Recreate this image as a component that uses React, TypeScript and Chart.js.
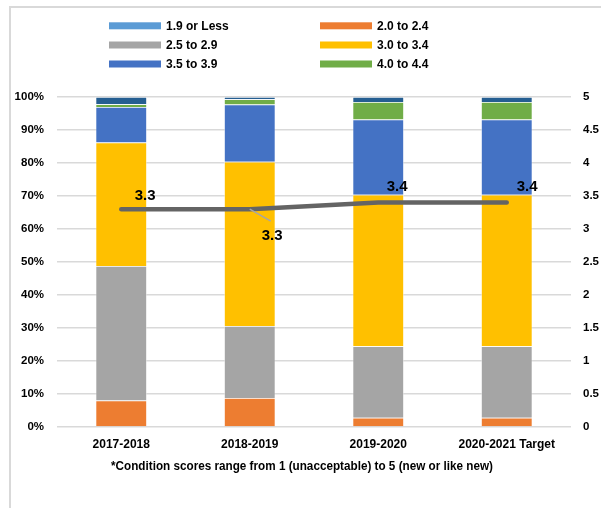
import React, { useEffect, useRef } from "react";
import { Chart, registerables } from "chart.js";

Chart.register(...registerables);

const categories = ["2017-2018", "2018-2019", "2019-2020", "2020-2021 Target"];
const seriesLabels = ["1.9 or Less", "2.0 to 2.4", "2.5 to 2.9", "3.0 to 3.4", "3.5 to 3.9", "4.0 to 4.4", "4.5 to 5.0"];
const s19OrLess = [0, 0, 0, 0];
const s20to24 = [8.0, 8.8, 2.8, 2.8];
const s25to29 = [40.8, 21.8, 21.7, 21.7];
const s30to34 = [37.4, 49.8, 45.9, 45.9];
const s35to39 = [10.8, 17.3, 22.8, 22.8];
const s40to44 = [0.8, 1.6, 5.3, 5.3];
const s45to50 = [2.2, 0.7, 1.5, 1.5];
const avgScore = [3.3, 3.3, 3.4, 3.4];
const avgLabels = ["3.3", "3.3", "3.4", "3.4"];
const footnote = "*Condition scores range from 1 (unacceptable) to 5 (new or like new)";

const colors = ["#5B9BD5", "#ED7D31", "#A5A5A5", "#FFC000", "#4472C4", "#70AD47", "#255E91"];
const FONT = "'Liberation Sans', Arial, sans-serif";

// label offsets (style) relative to line point
const LABEL_OFFSETS = [
  { dx: 13.5, dy: -13, leader: false },
  { dx: 12, dy: 27, leader: true },
  { dx: 8.5, dy: -15.5, leader: false },
  { dx: 10, dy: -15.5, leader: false },
];

const customPlugin = {
  id: "custom",
  beforeDraw(chart: any) {
    const ctx = chart.ctx;
    ctx.save();
    ctx.fillStyle = "#ffffff";
    ctx.fillRect(0, 0, chart.width, chart.height);
    ctx.strokeStyle = "#d9d9d9";
    ctx.lineWidth = 2;
    ctx.beginPath();
    ctx.moveTo(10, chart.height);
    ctx.lineTo(10, 7);
    ctx.lineTo(chart.width, 7);
    ctx.stroke();
    ctx.restore();
  },
  afterDatasetsDraw(chart: any) {
    const ctx = chart.ctx;
    ctx.save();
    // line data labels
    const lineIdx = chart.data.datasets.findIndex((d: any) => d.type === "line");
    const meta = chart.getDatasetMeta(lineIdx);
    meta.data.forEach((pt: any, i: number) => {
      const off = LABEL_OFFSETS[i];
      const tx = pt.x + off.dx;
      const ty = pt.y + off.dy;
      if (off.leader) {
        ctx.strokeStyle = "#a6a6a6";
        ctx.lineWidth = 1.5;
        ctx.beginPath();
        ctx.moveTo(pt.x, pt.y);
        ctx.lineTo(tx + 9, ty - 15);
        ctx.stroke();
      }
      ctx.fillStyle = "#000000";
      ctx.font = `bold 15px ${FONT}`;
      ctx.textAlign = "left";
      ctx.textBaseline = "middle";
      ctx.fillText(avgLabels[i], tx, ty);
    });
    ctx.restore();
  },
  afterDraw(chart: any) {
    const ctx = chart.ctx;
    ctx.save();
    // legend: 2 columns x 3 rows
    const colX = [109, 320];
    const rowY = [25.8, 45, 64];
    ctx.font = `bold 12px ${FONT}`;
    ctx.textBaseline = "middle";
    ctx.textAlign = "left";
    for (let i = 0; i < 6; i++) {
      const c = i % 2;
      const r = Math.floor(i / 2);
      const ds = chart.data.datasets[i];
      ctx.fillStyle = ds.backgroundColor;
      ctx.fillRect(colX[c], rowY[r] - 3.5, 52, 7);
      ctx.fillStyle = "#000000";
      ctx.fillText(ds.label, colX[c] + 57, rowY[r] + 0.5);
    }
    // footnote
    ctx.font = `bold 12px ${FONT}`;
    ctx.textAlign = "center";
    ctx.fillText(footnote, 302, 467, 382);
    ctx.restore();
  },
};

const barSeries = [s19OrLess, s20to24, s25to29, s30to34, s35to39, s40to44, s45to50];

export default function App() {
  const ref = useRef<HTMLCanvasElement | null>(null);
  useEffect(() => {
    document.body.style.margin = "0";
    const canvas = ref.current!;
    const datasets: any[] = barSeries.map((vals, i) => ({
      type: "bar",
      label: seriesLabels[i],
      data: vals,
      backgroundColor: colors[i],
      borderColor: "rgba(255,255,255,0.55)",
      borderWidth: 0.75,
      yAxisID: "y",
      order: 1,
      barPercentage: 0.4,
      categoryPercentage: 1,
    }));
    datasets.push({
      type: "line",
      label: "Average Score",
      data: avgScore,
      borderColor: "#646464",
      backgroundColor: "#646464",
      borderWidth: 4.5,
      borderCapStyle: "round",
      borderJoinStyle: "round",
      pointRadius: 0,
      tension: 0,
      yAxisID: "y1",
      order: 0,
    });
    const chart = new Chart(canvas, {
      type: "bar",
      data: { labels: categories, datasets },
      options: {
        animation: false,
        responsive: false,
        devicePixelRatio: 1,
        layout: { padding: { top: 97, left: 0, right: 0, bottom: 0 } },
        plugins: { legend: { display: false }, tooltip: { enabled: false } },
        scales: {
          x: {
            stacked: true,
            grid: { display: false, drawTicks: false },
            border: { display: false },
            ticks: { color: "#000", font: { family: FONT, size: 12, weight: "bold" }, padding: 10 },
            afterFit: (s: any) => { s.height = 81; },
          },
          y: {
            stacked: true,
            min: 0,
            max: 100,
            position: "left",
            grid: { color: "#d9d9d9", lineWidth: 1.5, drawTicks: false },
            border: { display: false },
            ticks: {
              stepSize: 10,
              color: "#000",
              padding: 13,
              font: { family: FONT, size: 11.5, weight: "bold" },
              callback: (v: any) => `${v}%`,
            },
            afterFit: (s: any) => { s.width = 57; },
          },
          y1: {
            min: 0,
            max: 5,
            position: "right",
            grid: { display: false, drawTicks: false },
            border: { display: false },
            ticks: {
              stepSize: 0.5,
              color: "#000",
              padding: 12,
              font: { family: FONT, size: 11.5, weight: "bold" },
              callback: (v: any) => String(v),
            },
            afterFit: (s: any) => { s.width = 30; },
          },
        },
      },
      plugins: [customPlugin],
    });
    return () => chart.destroy();
  }, []);
  return (
    <div style={{ width: 601, height: 508 }}>
      <canvas ref={ref} width={601} height={508} />
    </div>
  );
}
